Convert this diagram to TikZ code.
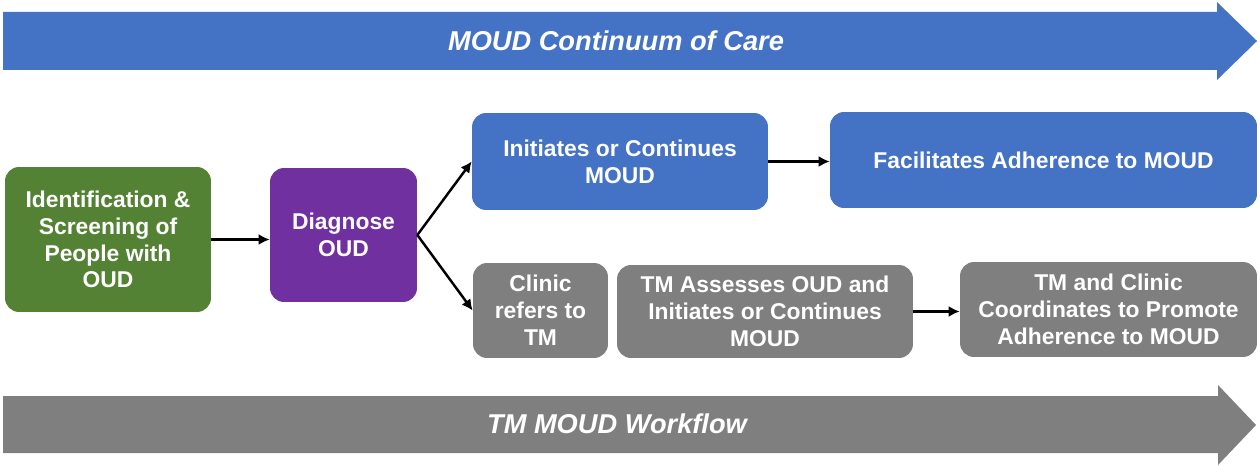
\documentclass[tikz,border=0pt]{standalone}
\usepackage{fontspec}
\setmainfont{Liberation Sans}
\usetikzlibrary{arrows.meta,calc}

\definecolor{moudblue}{HTML}{4472C4}
\definecolor{tmgrey}{HTML}{7F7F7F}
\definecolor{oudgreen}{HTML}{548235}
\definecolor{oudpurple}{HTML}{7030A0}

\begin{document}
\begin{tikzpicture}[x=0.02cm, y=-0.02cm
        , every node/.style={text=white, align=center
            , font=\bfseries\fontsize{13}{15.3}\selectfont}
        , stepbox/.style={rounded corners=0.28cm, inner sep=0pt}
        , bandtext/.style={font=\bfseries\itshape\fontsize{15.5}{18}\selectfont}
        , link/.style={-{Latex[length=2.2mm,width=2.2mm]}, line width=1.4pt}
    ]

    \useasboundingbox (0,0) rectangle (1260,466);

    %% the two long bands
    \fill[moudblue] (3,12) -- (1217,12) -- (1217,2) -- (1257,41)
        -- (1217,80) -- (1217,70) -- (3,70) -- cycle;
    \node[bandtext] (continuum) at (616,41) {MOUD Continuum of Care};

    \fill[tmgrey] (3,396) -- (1218,396) -- (1218,385) -- (1256,425)
        -- (1218,465) -- (1218,453) -- (3,453) -- cycle;
    \node[bandtext] (workflow) at (617,424) {TM MOUD Workflow};

    % common first steps
    \node[stepbox, fill=oudgreen, minimum width=4.12cm, minimum height=2.9cm]
        (ident) at (108,239.5) {Identification \&\\ Screening of\\ People with\\ OUD};
    \node[stepbox, fill=oudpurple, minimum width=2.94cm, minimum height=2.68cm]
        (diag) at (343.5,235) {Diagnose\\ OUD};

    % upper branch
    \node[stepbox, fill=moudblue, minimum width=5.92cm, minimum height=1.94cm]
        (init) at (620,161.5) {Initiates or Continues\\ MOUD};
    \node[stepbox, fill=moudblue, minimum width=8.54cm, minimum height=1.92cm]
        (adhere) at (1043.5,160) {Facilitates Adherence to MOUD};

    % lower branch, the TM way
    \node[stepbox, fill=tmgrey, minimum width=2.7cm, minimum height=1.9cm]
        (refer) at (540.5,310.5) {Clinic\\ refers to\\ TM};
    \node[stepbox, fill=tmgrey, minimum width=5.92cm, minimum height=1.86cm]
        (assess) at (765,311.5) {TM Assesses OUD and\\ Initiates or Continues\\ MOUD};
    \node[stepbox, fill=tmgrey, minimum width=5.94cm, minimum height=1.9cm]
        (coord) at (1108.5,309.5) {TM and Clinic\\ Coordinates to Promote\\ Adherence to MOUD};

    % connectors
    \draw[link] (ident.east) -- (ident.east -| diag.west);
    \draw[link] (diag.east) -- (init.west);
    \draw[link] (diag.east) -- (refer.west);
    \draw[link] (init.east) -- (init.east -| adhere.west);
    \draw[link] (assess.east) -- (assess.east -| coord.west);
\end{tikzpicture}
\end{document}
